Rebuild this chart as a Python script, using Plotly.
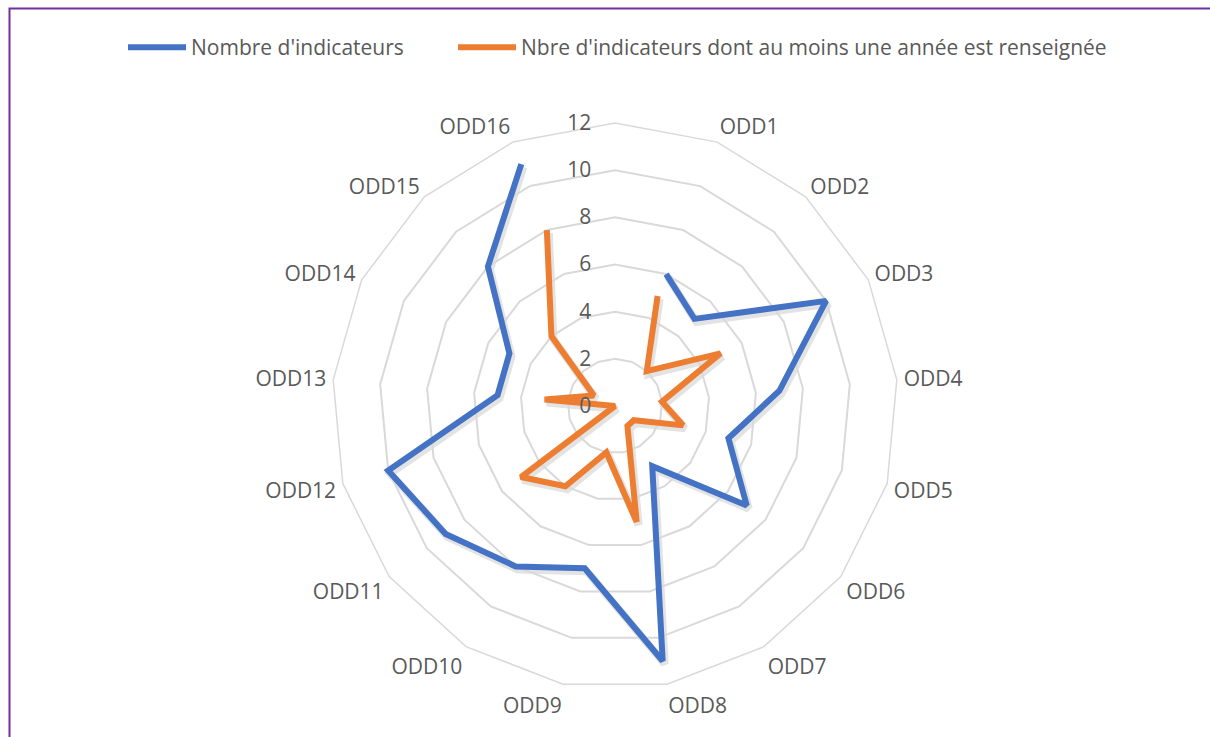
import plotly.graph_objects as go

# ---- data ----
categories = [" ", "ODD1", "ODD2", "ODD3", "ODD4", "ODD5", "ODD6", "ODD7", "ODD8",
              "ODD9", "ODD10", "ODD11", "ODD12", "ODD13", "ODD14", "ODD15", "ODD16"]
nb_indicateurs = [None, 6, 5, 10, 7, 5, 7, 3, 11, 7, 8, 9, 10, 5, 5, 8, 11]
nb_renseignes = [None, 5, 2, 5, 2, 3, 1, 1, 5, 2, 4, 5, 0, 3, 1, 4, 8]
radial_ticks = [0, 2, 4, 6, 8, 10, 12]

series_names = ["Nombre d'indicateurs",
                "Nbre d'indicateurs dont au moins une année est renseignée"]
series_colors = ["#4472C4", "#ED7D31"]

W, H = 1210, 737
cx, cy, R = 615, 406, 283
FONT = "Open Sans"
GREY = "#595959"
FS = 21

def dom(dx=0, dy=0):
    x0 = (cx - R + dx) / W
    x1 = (cx + R + dx) / W
    y0 = (H - (cy + R + dy)) / H
    y1 = (H - (cy - R + dy)) / H
    return dict(x=[x0, x1], y=[y0, y1])

fig = go.Figure()

# soft shadow (same data, offset subplot drawn underneath)
for vals in (nb_indicateurs, nb_renseignes):
    fig.add_trace(go.Scatterpolar(
        r=vals, theta=categories, mode="lines", subplot="polar",
        line=dict(color="rgba(0,0,0,0.11)", width=8), showlegend=False,
        hoverinfo="skip"))

legends = ["legend", "legend2"]
for vals, name, col, lg in zip((nb_indicateurs, nb_renseignes), series_names,
                               series_colors, legends):
    fig.add_trace(go.Scatterpolar(
        r=vals, theta=categories, mode="lines", name=name, legend=lg,
        line=dict(color=col, width=6), subplot="polar2"))

common_ang = dict(type="category", categoryorder="array", categoryarray=categories,
                  direction="clockwise", rotation=90)

fig.update_layout(
    width=W, height=H,
    margin=dict(l=0, r=0, t=0, b=0),
    paper_bgcolor="white",
    font=dict(family=FONT, size=FS, color=GREY),
    polar=dict(
        domain=dom(2, 3),
        bgcolor="rgba(0,0,0,0)",
        gridshape="linear",
        angularaxis=dict(**common_ang, showgrid=False, showline=False,
                         showticklabels=False, ticks=""),
        radialaxis=dict(range=[0, 12], visible=False, showgrid=False),
    ),
    polar2=dict(
        domain=dom(),
        bgcolor="rgba(0,0,0,0)",
        gridshape="linear",
        angularaxis=dict(**common_ang, showgrid=False, showline=True,
                         linecolor="#D9D9D9", linewidth=1.5,
                         ticks="outside", ticklen=2, tickcolor="rgba(0,0,0,0)",
                         tickfont=dict(family=FONT, size=FS, color=GREY)),
        radialaxis=dict(range=[0, 12], tickvals=radial_ticks, angle=90, tickangle=90,
                        side="counterclockwise", showline=False,
                        ticks="outside", ticklen=16, tickcolor="rgba(0,0,0,0)",
                        gridcolor="#D9D9D9", gridwidth=1.5,
                        tickfont=dict(family=FONT, size=FS, color=GREY)),
    ),
    legend=dict(orientation="h", x=123 / W, y=1 - 27 / H, xanchor="left", yanchor="top",
                itemwidth=58,
                font=dict(family=FONT, size=FS, color=GREY), bgcolor="rgba(0,0,0,0)"),
    legend2=dict(orientation="h", x=453 / W, y=1 - 27 / H, xanchor="left", yanchor="top",
                 itemwidth=58,
                 font=dict(family=FONT, size=FS, color=GREY), bgcolor="rgba(0,0,0,0)"),
    shapes=[dict(type="rect", xref="paper", yref="paper",
                 x0=9.5 / W, x1=1.01, y0=-0.01, y1=1 - 8.5 / H,
                 line=dict(color="#7030A0", width=2), fillcolor="rgba(0,0,0,0)",
                 layer="below")],
)

fig.write_html("out.html", config={"displayModeBar": False},
               post_script="document.body.style.margin='0';")
